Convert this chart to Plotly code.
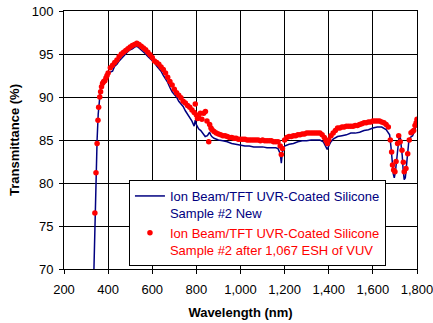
import plotly.graph_objects as go

# Sample #2 New (blue line)
new_nm = [330, 340, 345, 350, 355, 360, 365, 370, 380, 390, 400, 410, 420, 430, 440, 450,
          460, 470, 480, 490, 500, 510, 520, 530, 540, 550, 560, 570, 580, 590, 600, 610,
          620, 630, 640, 650, 660, 670, 680, 690, 700, 710, 720, 730, 740, 750, 760, 770,
          780, 790, 795, 800, 810, 820, 830, 840, 850, 860, 865, 870, 880, 890, 900, 920,
          940, 960, 980, 1000, 1020, 1040, 1060, 1080, 1100, 1120, 1140, 1160, 1170, 1180,
          1185, 1190, 1200, 1220, 1240, 1260, 1280, 1300, 1320, 1340, 1360, 1375, 1385,
          1393, 1400, 1410, 1420, 1440, 1460, 1480, 1500, 1520, 1540, 1560, 1580, 1600,
          1620, 1640, 1660, 1670, 1676, 1682, 1688, 1693, 1697, 1702, 1708, 1713, 1718,
          1724, 1729, 1733, 1737, 1742, 1747, 1752, 1757, 1763, 1770, 1780, 1788, 1795, 1800]
new_t = [64.0, 76.0, 81.5, 85.0, 88.0, 89.8, 90.8, 91.4, 91.9, 92.0, 92.6, 92.9, 93.0, 93.6,
         93.8, 94.2, 94.5, 94.8, 95.0, 95.3, 95.5, 95.6, 95.8, 95.9, 95.7, 95.5, 95.2, 95.0,
         94.7, 94.5, 94.3, 94.0, 93.6, 93.3, 93.0, 92.5, 92.1, 91.7, 91.1, 90.6, 90.3, 90.0,
         89.5, 89.2, 88.9, 88.4, 88.0, 87.7, 87.2, 86.6, 87.3, 86.8, 86.3, 86.1, 85.7, 85.4,
         85.5, 85.9, 85.6, 85.4, 85.2, 85.1, 85.0, 84.9, 84.8, 84.6, 84.5, 84.4, 84.3, 84.3,
         84.2, 84.2, 84.2, 84.1, 84.1, 84.1, 84.0, 83.4, 82.3, 83.6, 84.3, 84.5, 84.6, 84.8,
         84.9, 84.9, 85.0, 85.0, 85.0, 84.8, 84.3, 83.9, 84.3, 84.8, 85.1, 85.4, 85.5, 85.6,
         85.8, 85.8, 85.9, 86.1, 86.2, 86.4, 86.5, 86.5, 86.2, 85.9, 85.6, 84.2, 82.0, 81.0,
         80.6, 81.3, 82.7, 84.6, 85.2, 85.4, 84.5, 83.2, 81.6, 80.4, 80.6, 81.8, 83.3, 84.9,
         85.3, 85.5, 86.0, 86.6, 87.0]

# Sample #2 after 1,067 ESH of VUV (red dots)
vuv_nm = [340, 345, 350, 354, 357, 362, 366, 370, 375, 380, 385, 390, 395, 400, 410, 420,
          430, 440, 450, 460, 470, 480, 490, 500, 510, 520, 530, 540, 550, 560, 570, 580,
          590, 600, 610, 620, 630, 640, 650, 660, 670, 680, 690, 700, 710, 720, 730, 740,
          750, 760, 770, 780, 790, 795, 800, 805, 810, 818, 825, 833, 841, 848, 856, 860,
          866, 871, 880, 890, 900, 910, 920, 930, 940, 950, 960, 970, 980, 990, 1000, 1010,
          1020, 1030, 1040, 1050, 1060, 1070, 1080, 1090, 1100, 1110, 1120, 1130, 1140,
          1150, 1160, 1170, 1180, 1185, 1190, 1200, 1210, 1220, 1230, 1240, 1250, 1260,
          1270, 1280, 1290, 1300, 1310, 1320, 1330, 1340, 1350, 1360, 1370, 1380, 1388,
          1394, 1400, 1410, 1420, 1430, 1440, 1450, 1460, 1470, 1480, 1490, 1500, 1510,
          1520, 1530, 1540, 1550, 1560, 1570, 1580, 1590, 1600, 1610, 1620, 1630, 1640,
          1650, 1660, 1670, 1679, 1685, 1689, 1694, 1700, 1705, 1712, 1717, 1724, 1732,
          1738, 1742, 1750, 1758, 1765, 1773, 1780, 1785, 1791, 1796, 1800]
vuv_t = [76.5, 81.2, 84.6, 87.3, 88.8, 90.0, 90.6, 91.2, 91.6, 91.8, 91.9, 92.2, 92.5, 92.8,
         93.4, 93.7, 94.0, 94.3, 94.7, 95.0, 95.2, 95.4, 95.6, 95.8, 96.0, 96.1, 96.25, 96.1,
         95.9, 95.7, 95.5, 95.2, 94.9, 94.6, 94.2, 94.0, 93.8, 93.5, 93.2, 92.8, 92.3, 91.8,
         91.4, 90.9, 90.5, 90.2, 89.9, 89.5, 89.3, 89.0, 88.8, 88.5, 88.2, 89.2, 87.9, 87.5,
         87.6, 88.1, 87.4, 88.1, 88.3, 87.2, 84.8, 86.8, 86.4, 86.2, 86.0, 85.8, 85.7, 85.6,
         85.5, 85.5, 85.4, 85.3, 85.3, 85.2, 85.2, 85.1, 85.1, 85.1, 85.1, 85.0, 85.0, 85.0,
         85.0, 85.0, 85.0, 84.9, 85.0, 84.9, 84.9, 84.9, 84.9, 84.8, 84.8, 84.8, 84.3, 83.3,
         84.0, 85.0, 85.3, 85.4, 85.4, 85.5, 85.5, 85.6, 85.6, 85.7, 85.7, 85.8, 85.8, 85.8,
         85.8, 85.8, 85.8, 85.8, 85.6, 85.3, 84.9, 84.6, 85.0, 85.5, 85.8, 86.1, 86.4, 86.4,
         86.5, 86.5, 86.6, 86.6, 86.6, 86.6, 86.7, 86.7, 86.8, 86.9, 87.0, 87.0, 87.1, 87.1,
         87.2, 87.2, 87.2, 87.2, 87.1, 87.0, 86.8, 86.5, 85.0, 83.6, 82.1, 81.5, 81.3, 82.5,
         84.6, 85.5, 84.8, 83.8, 82.4, 81.3, 81.7, 83.4, 85.0, 85.85, 86.0, 86.1, 86.7, 87.0,
         87.4]

FONT = "Liberation Sans, Arial, sans-serif"

fig = go.Figure()
fig.add_trace(go.Scatter(
    x=new_nm, y=new_t, mode="lines",
    line=dict(color="#000080", width=1.5),
    name="<span style='color:#000080'>Ion Beam/TFT UVR-Coated Silicone<br>Sample #2 New</span>"))
fig.add_trace(go.Scatter(
    x=vuv_nm, y=vuv_t, mode="markers",
    marker=dict(color="#FF0000", size=5.5, line=dict(width=0)),
    name="<span style='color:#FF0000'>Ion Beam/TFT UVR-Coated Silicone<br>Sample #2 after 1,067 ESH of VUV</span>"))

axis_common = dict(
    showgrid=True, gridcolor="black", gridwidth=1,
    showline=True, linecolor="black", linewidth=1, mirror=True,
    ticks="outside", ticklen=4, tickcolor="black",
    tickfont=dict(family=FONT, size=13, color="black"),
    zeroline=False, automargin=False, ticklabeloverflow="allow")

fig.update_xaxes(range=[200, 1800], dtick=200, tickformat=",d", ticklabelstandoff=4,
                 title=dict(text="<b>Wavelength (nm)</b>", font=dict(family=FONT, size=13, color="black"), standoff=12),
                 **axis_common)
fig.update_yaxes(range=[70, 100], dtick=5, ticklabelstandoff=3,
                 title=dict(text="<b>Transmittance (%)</b>", font=dict(family=FONT, size=13, color="black"), standoff=9),
                 **axis_common)

fig.update_layout(
    width=433, height=323,
    margin=dict(l=64, r=16, t=11, b=54),
    paper_bgcolor="white", plot_bgcolor="white",
    font=dict(family=FONT, size=13, color="black"),
    legend=dict(x=0.184, y=0.345, xanchor="left", yanchor="top",
                bgcolor="white", bordercolor="black", borderwidth=1,
                font=dict(family=FONT, size=13), valign="top",
                tracegroupgap=0, itemwidth=30),
)

fig.write_html("out.html", config={"displayModeBar": False},
               post_script="document.body.style.margin='0px';")
